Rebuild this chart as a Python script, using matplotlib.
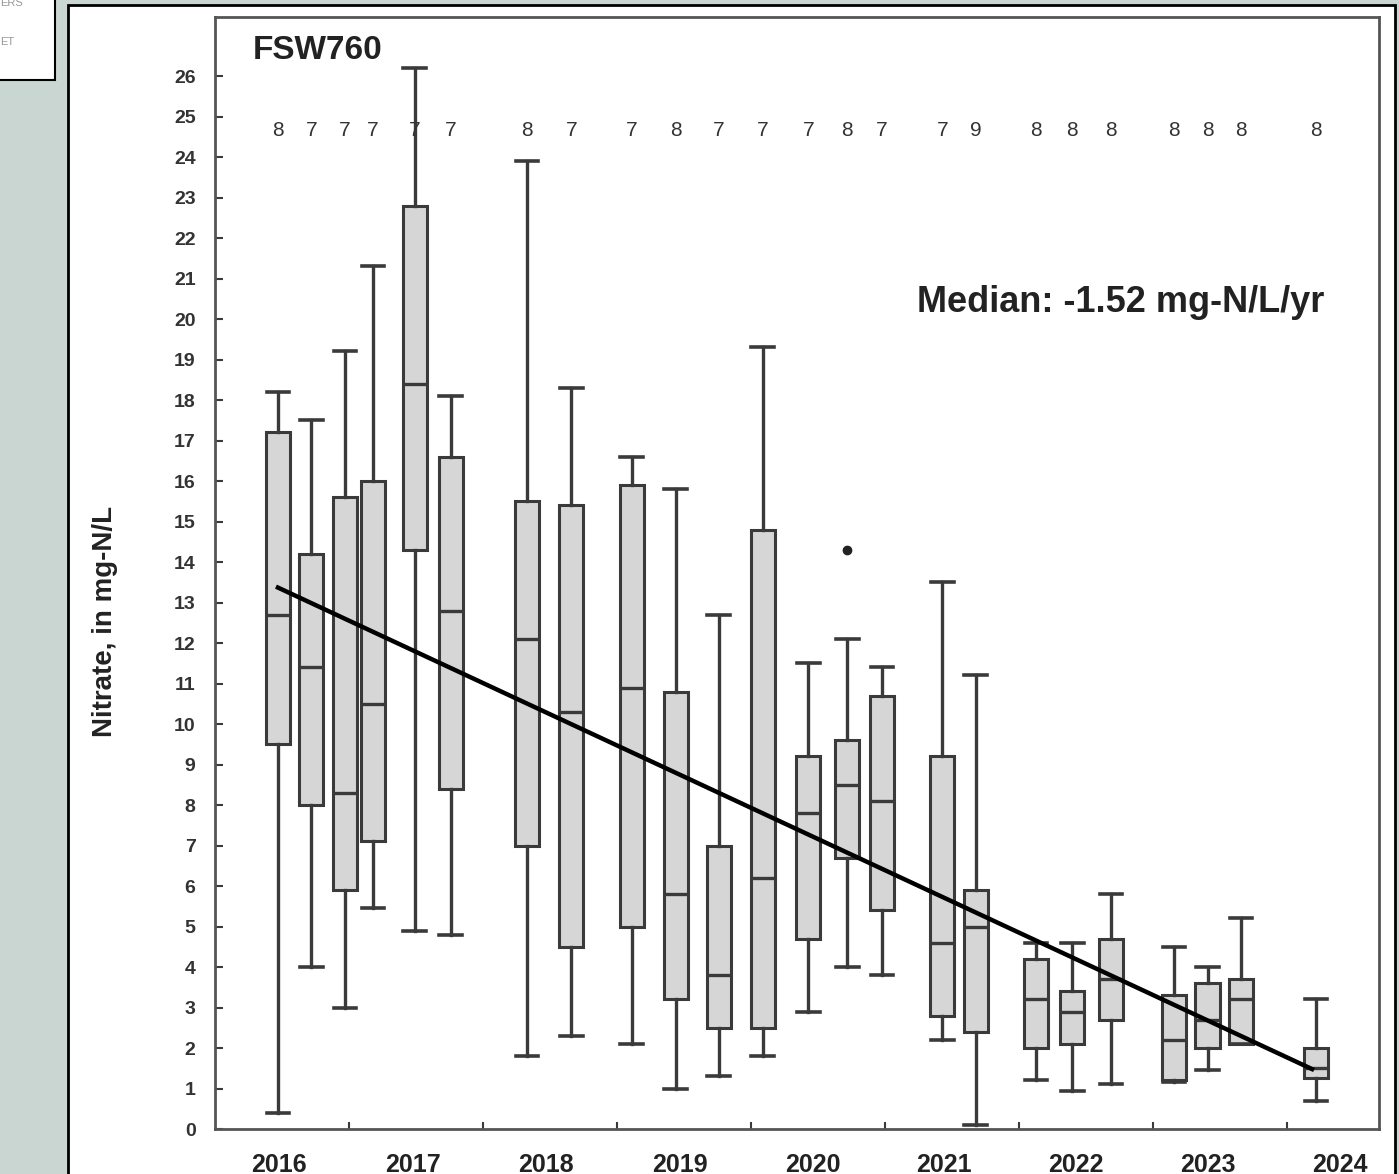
import matplotlib
matplotlib.use("Agg")
import matplotlib.pyplot as plt
from matplotlib.patches import Rectangle

# sample dates (decimal years) and box statistics
positions = [2016.47, 2016.72, 2016.97, 2017.18, 2017.49, 2017.76,
             2018.33, 2018.66, 2019.11, 2019.44, 2019.76, 2020.09,
             2020.43, 2020.72, 2020.98, 2021.43, 2021.68, 2022.13,
             2022.40, 2022.69, 2023.16, 2023.41, 2023.66, 2024.22]
whis_hi = [18.2, 17.5, 19.2, 21.3, 26.2, 18.1, 23.9, 18.3, 16.6, 15.8, 12.7, 19.3,
           11.5, 12.1, 11.4, 13.5, 11.2, 4.6, 4.6, 5.8, 4.5, 4.0, 5.2, 3.2]
q3 = [17.2, 14.2, 15.6, 16.0, 22.8, 16.6, 15.5, 15.4, 15.9, 10.8, 7.0, 14.8,
      9.2, 9.6, 10.7, 9.2, 5.9, 4.2, 3.4, 4.7, 3.3, 3.6, 3.7, 2.0]
medians = [12.7, 11.4, 8.3, 10.5, 18.4, 12.8, 12.1, 10.3, 10.9, 5.8, 3.8, 6.2,
           7.8, 8.5, 8.1, 4.6, 5.0, 3.2, 2.9, 3.7, 2.2, 2.7, 3.2, 1.5]
q1 = [9.5, 8.0, 5.9, 7.1, 14.3, 8.4, 7.0, 4.5, 5.0, 3.2, 2.5, 2.5,
      4.7, 6.7, 5.4, 2.8, 2.4, 2.0, 2.1, 2.7, 1.2, 2.0, 2.1, 1.25]
whis_lo = [0.4, 4.0, 3.0, 5.45, 4.9, 4.8, 1.8, 2.3, 2.1, 1.0, 1.3, 1.8,
           2.9, 4.0, 3.8, 2.2, 0.1, 1.2, 0.95, 1.1, 1.15, 1.45, 2.1, 0.7]
outliers = {13: [14.3]}
counts = [8, 7, 7, 7, 7, 7, 8, 7, 7, 8, 7, 7, 7, 8, 7, 7, 9, 8, 8, 8, 8, 8, 8, 8]

trend_x = [2016.47, 2024.19]
trend_y = [13.37, 1.48]

year_labels = ["2016", "2017", "2018", "2019", "2020", "2021", "2022", "2023", "2024"]
year_label_pos = [2016.48, 2017.48, 2018.47, 2019.47, 2020.46, 2021.44, 2022.43, 2023.41, 2024.40]
year_ticks = [2017, 2018, 2019, 2020, 2021, 2022, 2023, 2024]

plt.rcParams["font.family"] = ["Liberation Sans", "DejaVu Sans"]

fig = plt.figure(figsize=(13.99, 11.74), dpi=100)
fig.patch.set_facecolor("#c9d6d1")

# white page panel and the clipped box at top left (behind the axes)
fig.patches.append(Rectangle((68 / 1399, -0.05), (1395 - 68) / 1399, 1 - 5 / 1174 + 0.05,
                             transform=fig.transFigure, facecolor="white",
                             edgecolor="black", linewidth=2, zorder=-2))
fig.patches.append(Rectangle((-0.01, 1 - 80 / 1174), 55 / 1399 + 0.01, 0.1,
                             transform=fig.transFigure, facecolor="white",
                             edgecolor="black", linewidth=1.5, zorder=-2))
fig.text(0.0, 1 - 3 / 1174, "ERS", fontsize=8, color="#999999", ha="left", va="center")
fig.text(0.0, 1 - 42 / 1174, "ET", fontsize=8, color="#999999", ha="left", va="center")

ax = fig.add_axes([215 / 1399, 1 - 1129 / 1174, (1379 - 215) / 1399, (1129 - 17) / 1174])
ax.set_facecolor("white")

stats = []
for i in range(len(positions)):
    stats.append({"med": medians[i], "q1": q1[i], "q3": q3[i],
                  "whislo": whis_lo[i], "whishi": whis_hi[i],
                  "fliers": outliers.get(i, [])})

edge = "#3a3a3a"
ax.bxp(stats, positions=positions, widths=0.18, patch_artist=True, manage_ticks=False,
       boxprops=dict(facecolor="#d6d6d6", edgecolor=edge, linewidth=2.2),
       medianprops=dict(color=edge, linewidth=2.4),
       whiskerprops=dict(color=edge, linewidth=2.4),
       capprops=dict(color=edge, linewidth=2.6),
       capwidths=0.17,
       flierprops=dict(marker="o", markerfacecolor="#222222", markeredgecolor="#222222",
                       markersize=6))

ax.plot(trend_x, trend_y, color="black", linewidth=3.2, zorder=5)

for x, n in zip(positions, counts):
    ax.text(x, 24.65, str(n), ha="center", va="center", fontsize=15, color="#333333")

ax.text(2016.28, 26.64, "FSW760", fontsize=24, fontweight="bold",
        ha="left", va="center", color="#222222")
ax.text(2024.28, 20.4, "Median: -1.52 mg-N/L/yr", fontsize=26, fontweight="bold",
        ha="right", va="center", color="#222222")

ax.set_xlim(2016.0, 2024.69)
ax.set_ylim(0, 27.46)
ax.set_yticks(range(0, 27))
ax.set_xticks(year_ticks)
ax.set_xticklabels([])
ax.set_xticks(year_label_pos, minor=True)
ax.set_xticklabels(year_labels, minor=True)
ax.tick_params(axis="x", which="major", direction="in", length=5, width=1.5, color=edge)
ax.tick_params(axis="x", which="minor", length=0, pad=17)
ax.tick_params(axis="y", direction="in", length=6, width=1.5, color=edge, pad=14)
for lab in ax.get_yticklabels():
    lab.set_fontsize(14)
    lab.set_fontweight("bold")
    lab.set_color("#333333")
for lab in ax.get_xticklabels(minor=True):
    lab.set_fontsize(18)
    lab.set_fontweight("bold")
    lab.set_color("#222222")

ax.set_ylabel("Nitrate, in mg-N/L", fontsize=20, fontweight="bold", color="#222222")
ax.yaxis.set_label_coords(-0.083, 0.456)

for s in ax.spines.values():
    s.set_color("#555555")
    s.set_linewidth(2)

fig.savefig("out.png", dpi=100)
